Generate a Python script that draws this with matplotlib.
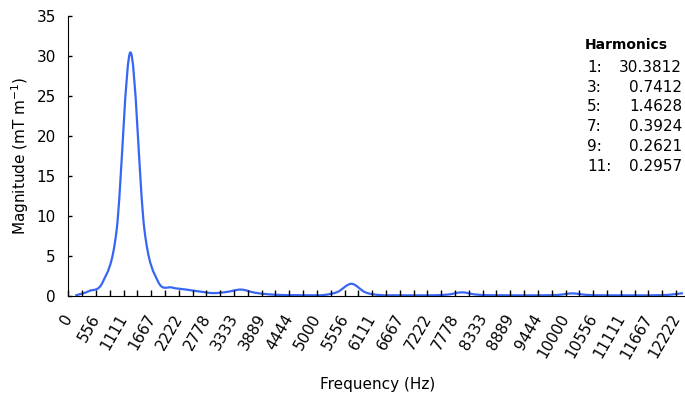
import numpy as np
import matplotlib
matplotlib.use("Agg")
import matplotlib.pyplot as plt
from matplotlib.path import Path
from matplotlib.patches import PathPatch

# frequency bins (Hz), one category every 277.78 Hz
freq = np.arange(45) * 12500 / 45
mag = [0.0, 0.55, 1.7, 8.2, 30.3812, 8.4, 1.73, 1.0, 0.75, 0.5,
       0.3, 0.45, 0.7412, 0.35, 0.15, 0.06, 0.04, 0.03, 0.06, 0.45,
       1.4628, 0.4, 0.06, 0.03, 0.02, 0.02, 0.03, 0.12, 0.3924, 0.12,
       0.04, 0.03, 0.02, 0.02, 0.03, 0.08, 0.2621, 0.08, 0.03, 0.02,
       0.02, 0.02, 0.03, 0.09, 0.2957]
tick_labels = [str(int(round(f))) for f in freq[::2]]
harm_no = ["1:", "3:", "5:", "7:", "9:", "11:"]
harm_val = ["30.3812", "0.7412", "1.4628", "0.3924", "0.2621", "0.2957"]

fig = plt.figure(figsize=(6.85, 4.01), dpi=100)
ax = fig.add_axes([68.3/685, 105.5/401, (689.8-68.3)/685, 280/401])

# smoothed line through the points (bezier, like a spreadsheet "smooth line")
x = np.arange(len(mag), dtype=float)
y = np.array(mag)
px = np.concatenate([[x[0]], x, [x[-1]]])
py = np.concatenate([[y[0]], y, [y[-1]]])
verts = [(x[0], y[0])]
codes = [Path.MOVETO]
for i in range(1, len(px) - 2):
    c1 = (px[i] + (px[i+1]-px[i-1])/6, py[i] + (py[i+1]-py[i-1])/6)
    c2 = (px[i+1] - (px[i+2]-px[i])/6, py[i+1] - (py[i+2]-py[i])/6)
    verts += [c1, c2, (px[i+1], py[i+1])]
    codes += [Path.CURVE4]*3
ax.add_patch(PathPatch(Path(verts, codes), fill=False, edgecolor="#3866f4", lw=1.6))

ax.set_xlim(-0.5, 44.5)
ax.set_ylim(0, 35)
ax.set_yticks(range(0, 36, 5))
ax.set_xticks(x[::2], tick_labels, rotation=60, ha="right", va="bottom",
              rotation_mode="anchor")
ax.set_xticks(np.arange(-0.5, 45, 1), minor=True)
ax.tick_params(axis="x", which="major", length=0, pad=17, labelsize=11)
ax.tick_params(axis="x", which="minor", direction="in", length=4, width=1)
ax.tick_params(axis="y", direction="in", length=3, width=1, pad=9, labelsize=11)
for s in ["top", "right"]:
    ax.spines[s].set_visible(False)

ax.set_ylabel("Magnitude (mT m$^{-1}$)", fontsize=11)
fig.text(378/685, 1-385/401, "Frequency (Hz)", ha="center", va="center", fontsize=11)

fig.text(585/685, 1-45/401, "Harmonics", fontweight="bold", fontsize=10, va="center")
for k in range(len(harm_no)):
    yy = 1 - (67 + 20*k)/401
    fig.text(587/685, yy, harm_no[k], fontsize=11, va="center")
    fig.text(682/685, yy, harm_val[k], fontsize=11, va="center", ha="right")

fig.savefig("out.png", dpi=100)
